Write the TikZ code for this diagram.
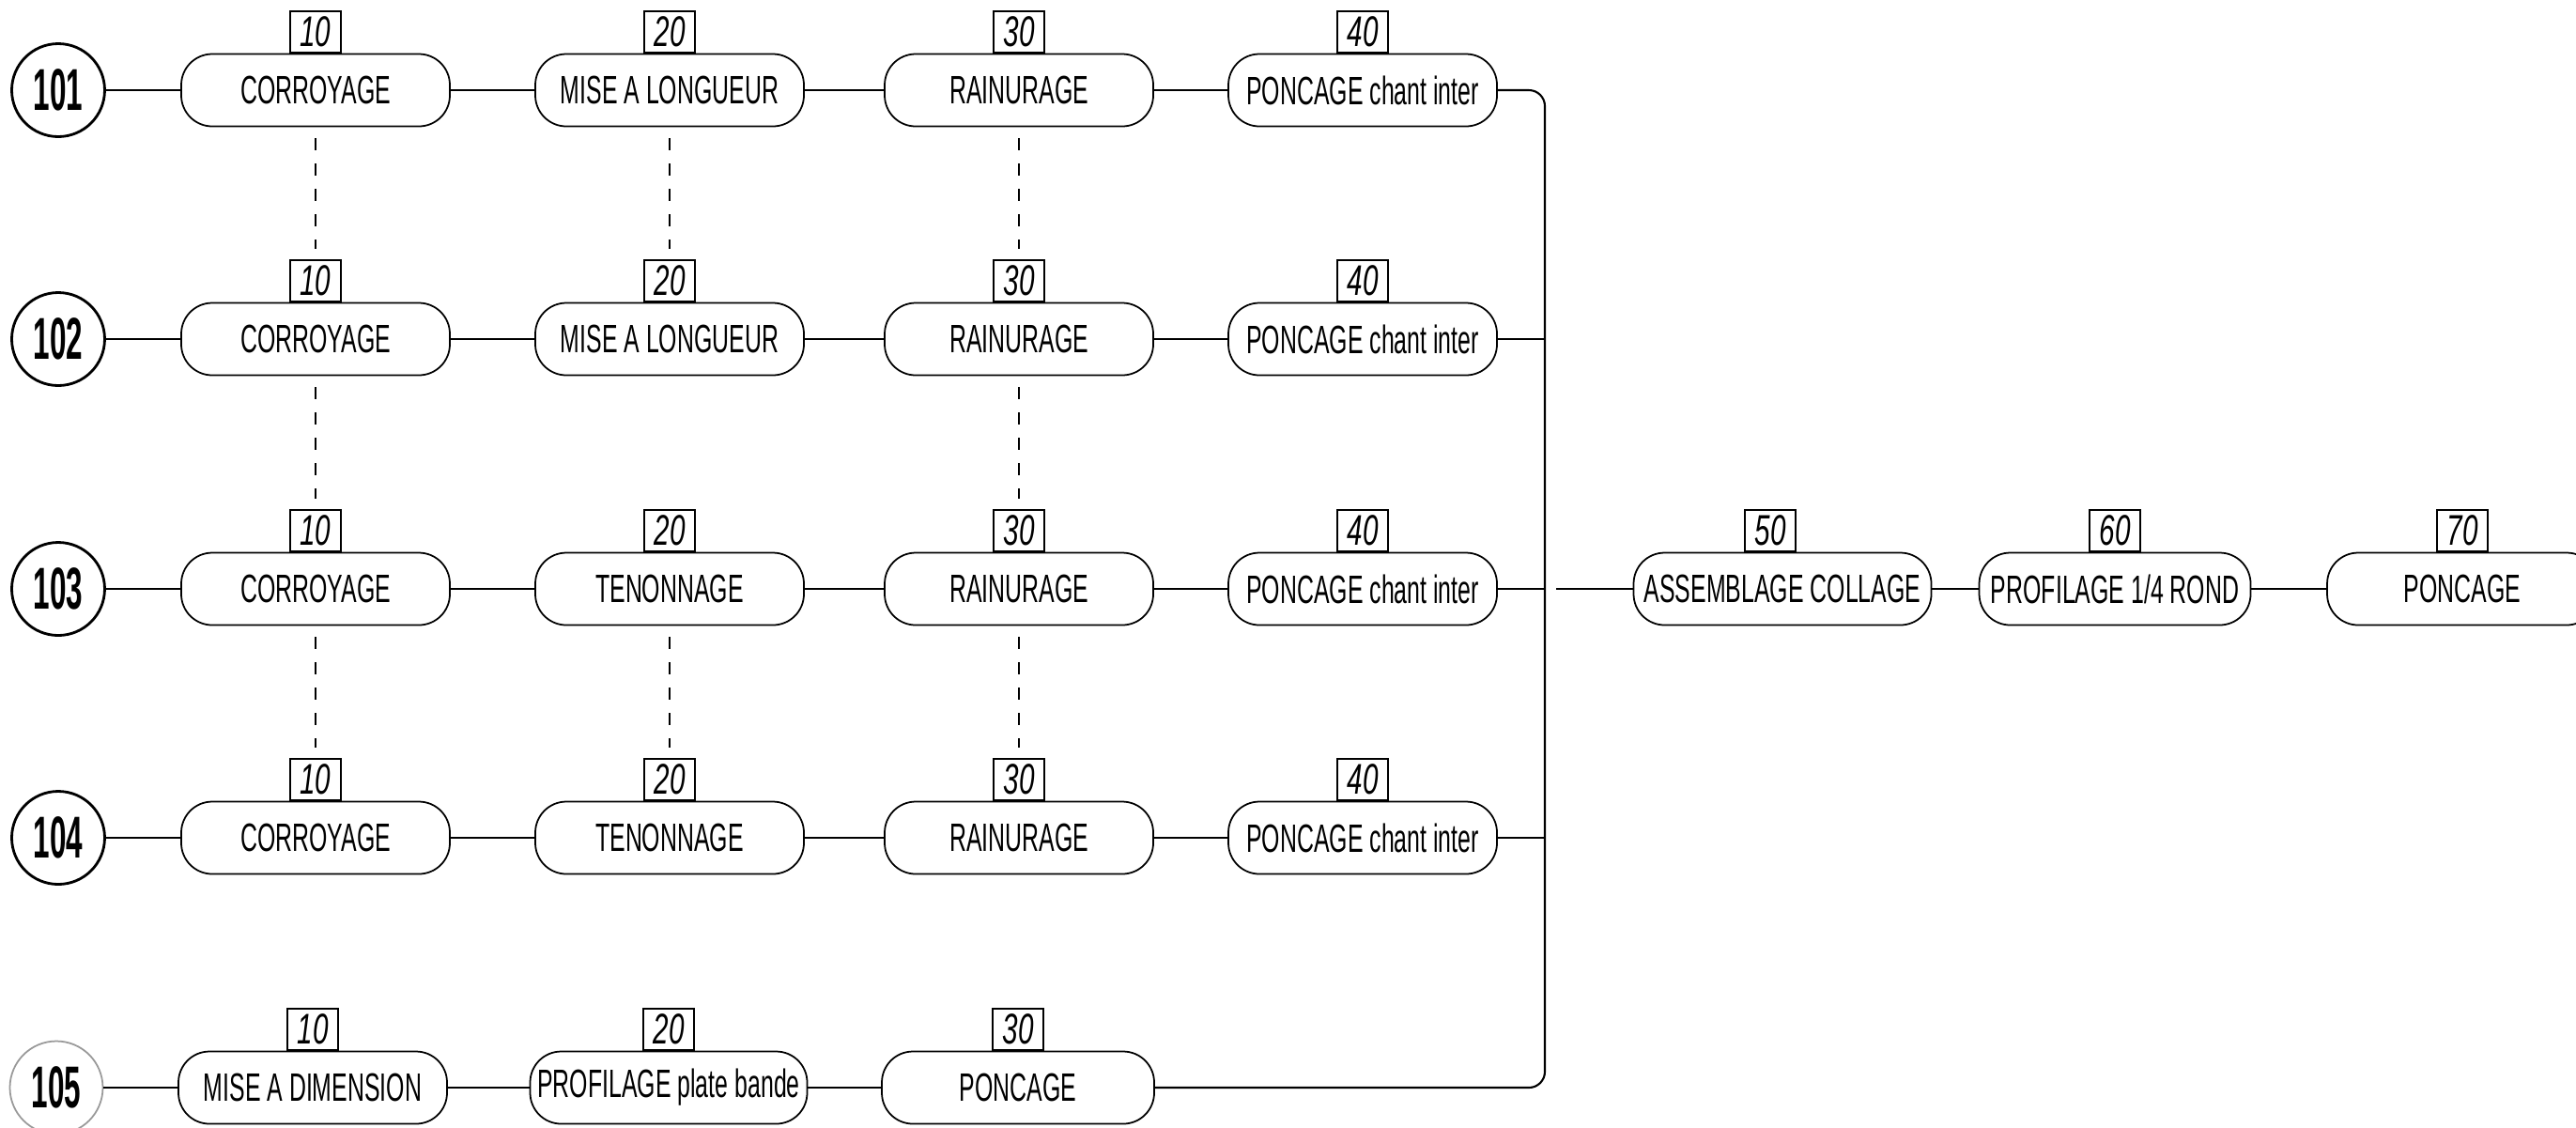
\documentclass[tikz,border=0pt]{standalone}
\usepackage{fontspec}
\setmainfont{Liberation Sans}
\newfontfamily\opfont{Liberation Sans}[FakeStretch=0.59]
\newfontfamily\stepfont{Liberation Sans}[FakeStretch=0.65]
\newfontfamily\partfont{Liberation Sans}[FakeStretch=0.5]
\usetikzlibrary{
  positioning
}
\tikzset{
  opbox/.style={
    draw,
    rectangle,
    rounded corners=3.3mm,
    line width=0.5pt,
    minimum width=28.6mm,
    minimum height=7.7mm,
    inner xsep=0pt,
    inner ysep=0pt,
    fill=white,
    font=\opfont\fontsize{12}{14}\selectfont
  },
  stepno/.style={
    draw,
    sharp corners,
    line width=0.5pt,
    minimum width=5.4mm,
    minimum height=4.4mm,
    inner sep=0pt,
    fill=white,
    font=\stepfont\itshape\fontsize{13}{14}\selectfont
  },
  partno/.style={
    draw,
    circle,
    line width=0.8pt,
    minimum size=9.9mm,
    inner sep=0pt,
    font=\partfont\bfseries\fontsize{17.9}{18}\selectfont
  },
  flowline/.style={
    line width=0.5pt
  },
  samelink/.style={
    dash pattern=on 1.3mm off 1.4mm,
    line width=0.4pt,
    shorten <=1.2mm,
    shorten >=1.1mm
  }
}

\begin{document}
\begin{tikzpicture}
  \useasboundingbox (0,0) rectangle (27.43,-12.00);

  % part 101
  \node[partno] (p101) at (0.62,-0.96) {101};
  \node[opbox, label={[stepno,name=n1a]above:10}] (o1a) at (3.36,-0.96) {CORROYAGE};
  \node[opbox, label={[stepno,name=n1b]above:20}] (o1b) at (7.13,-0.96) {MISE A LONGUEUR};
  \node[opbox, label={[stepno,name=n1c]above:30}] (o1c) at (10.85,-0.96) {RAINURAGE};
  \node[opbox, label={[stepno,name=n1d]above:40}] (o1d) at (14.51,-0.96) {PONCAGE chant inter};

  % part 102
  \node[partno] (p102) at (0.62,-3.61) {102};
  \node[opbox, label={[stepno,name=n2a]above:10}] (o2a) at (3.36,-3.61) {CORROYAGE};
  \node[opbox, label={[stepno,name=n2b]above:20}] (o2b) at (7.13,-3.61) {MISE A LONGUEUR};
  \node[opbox, label={[stepno,name=n2c]above:30}] (o2c) at (10.85,-3.61) {RAINURAGE};
  \node[opbox, label={[stepno,name=n2d]above:40}] (o2d) at (14.51,-3.61) {PONCAGE chant inter};

  % part 103
  \node[partno] (p103) at (0.62,-6.27) {103};
  \node[opbox, label={[stepno,name=n3a]above:10}] (o3a) at (3.36,-6.27) {CORROYAGE};
  \node[opbox, label={[stepno,name=n3b]above:20}] (o3b) at (7.13,-6.27) {TENONNAGE};
  \node[opbox, label={[stepno,name=n3c]above:30}] (o3c) at (10.85,-6.27) {RAINURAGE};
  \node[opbox, label={[stepno,name=n3d]above:40}] (o3d) at (14.51,-6.27) {PONCAGE chant inter};

  % part 104
  \node[partno] (p104) at (0.62,-8.92) {104};
  \node[opbox, label={[stepno,name=n4a]above:10}] (o4a) at (3.36,-8.92) {CORROYAGE};
  \node[opbox, label={[stepno,name=n4b]above:20}] (o4b) at (7.13,-8.92) {TENONNAGE};
  \node[opbox, label={[stepno,name=n4c]above:30}] (o4c) at (10.85,-8.92) {RAINURAGE};
  \node[opbox, label={[stepno,name=n4d]above:40}] (o4d) at (14.51,-8.92) {PONCAGE chant inter};

  % part 105
  \node[partno, draw=black!40, line width=0.5pt] (p105) at (0.60,-11.58) {105};
  \node[opbox, label={[stepno,name=n5a]above:10}] (o5a) at (3.33,-11.58) {MISE A DIMENSION};
  \node[opbox, minimum width=29.5mm, label={[stepno,name=n5b]above:20}] (o5b) at (7.12,-11.58) {PROFILAGE plate bande};
  \node[opbox, minimum width=29mm, label={[stepno,name=n5c]above:30}] (o5c) at (10.84,-11.58) {PONCAGE};

  % assembly line
  \node[opbox, minimum width=31.7mm, label={[stepno,name=n50,xshift=-1.3mm]above:50}] (asm) at (18.98,-6.27) {ASSEMBLAGE COLLAGE};
  \node[opbox, minimum width=28.9mm, label={[stepno,name=n60]above:60}] (prof) at (22.52,-6.27) {PROFILAGE 1/4 ROND};
  \node[opbox, minimum width=28.8mm, label={[stepno,name=n70]above:70}] (ponc) at (26.22,-6.27) {PONCAGE};

  \coordinate (busend) at (16.45,-11.58);

  % rows
  \draw[flowline] (p101) -- (o1a) -- (o1b) -- (o1c) -- (o1d);
  \draw[flowline] (p102) -- (o2a) -- (o2b) -- (o2c) -- (o2d);
  \draw[flowline] (p103) -- (o3a) -- (o3b) -- (o3c) -- (o3d);
  \draw[flowline] (p104) -- (o4a) -- (o4b) -- (o4c) -- (o4d);
  \draw[flowline] (p105) -- (o5a) -- (o5b) -- (o5c);

  % collector
  \draw[flowline, line width=0.6pt, rounded corners=1.7mm] (o1d.east) -| (busend) -- (o5c.east);
  \draw[flowline] (o2d.east) -- (o2d.east -| busend);
  \draw[flowline] (o3d.east) -- (o3d.east -| busend);
  \draw[flowline] (o4d.east) -- (o4d.east -| busend);
  \draw[flowline, shorten <=1.2mm] (o3d.east -| busend) -- (asm.west);
  \draw[flowline] (asm) -- (prof) -- (ponc);

  % same operations
  \draw[samelink] (o1a.south) -- (n2a.north);
  \draw[samelink] (o2a.south) -- (n3a.north);
  \draw[samelink] (o3a.south) -- (n4a.north);
  \draw[samelink] (o1b.south) -- (n2b.north);
  \draw[samelink] (o3b.south) -- (n4b.north);
  \draw[samelink] (o1c.south) -- (n2c.north);
  \draw[samelink] (o2c.south) -- (n3c.north);
  \draw[samelink] (o3c.south) -- (n4c.north);
\end{tikzpicture}
\end{document}
